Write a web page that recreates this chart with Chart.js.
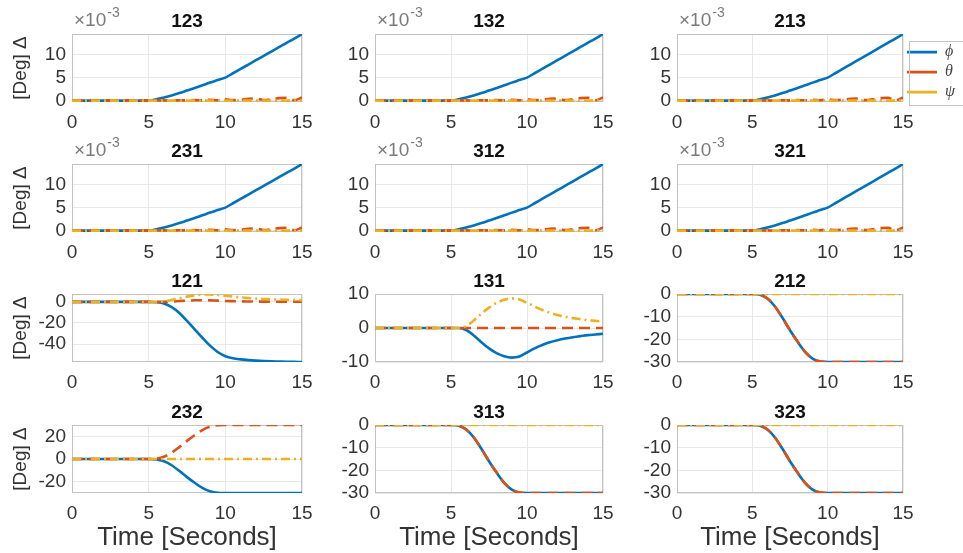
<!DOCTYPE html>
<html><head><meta charset="utf-8">
<script src="https://cdn.jsdelivr.net/npm/chart.js@4.4.1/dist/chart.umd.min.js"></script>
<style>
html,body{margin:0;padding:0;background:#fff;overflow:hidden;width:963px;height:553px;position:relative;}
canvas{position:absolute;}
</style></head><body>
<script>
// ---------- data ----------
const time = [0,0.5,1,1.5,2,2.5,3,3.5,4,4.5,5,5.5,6,6.5,7,7.5,8,8.5,9,9.5,10,10.5,11,11.5,12,12.5,13,13.5,14,14.5,15];
const xTicks = [0,5,10,15];
const seriesNames = ['\u03d5','\u03b8','\u03c8'];

// rows 1-2 (x10^-3)
const phiSmall   = [0,0,0,0,0,0,0,0,0,0,0, 0.3,0.7,1.15,1.65,2.2,2.75,3.35,3.95,4.5,5.05, 6,6.95,7.9,8.85,9.8,10.75,11.7,12.65,13.6,14.6];
const thetaSmall = [0,0,0,0,0,0,0,0,0,0,0, 0.02,0.05,0.03,0.08,0.05,0.12,0.06,0.18,0.08,0.3, 0.1,0.22,0.38,0.45,0.12,0.3,0.55,0.62,0.08,0.7];
const psiSmall   = [0,0,0,0,0,0,0,0,0,0,0, 0,0,0,0,0,0,0,0,0,0, 0,0,0,0,0,0,0,0,0,0];
const yTicksSmall = [0,5,10];

// 121
const phi121   = [0,0,0,0,0,0,0,0,0,0,0, -0.3,-1.5,-5,-10.5,-18,-26,-34,-41.5,-47.5,-51.5, -53.5,-54.5,-55.2,-55.7,-56.1,-56.4,-56.6,-56.8,-56.9,-57];
const theta121 = [0,0,0,0,0,0,0,0,0,0,0, 0,0.1,0.4,0.8,1.2,1.5,1.6,1.5,1.2,0.9, 0.7,0.5,0.4,0.3,0.25,0.2,0.15,0.12,0.1,0.1];
const psi121   = [0,0,0,0,0,0,0,0,0,0,0, 0,0.5,1.8,3.5,5,6.2,6.9,7,6.6,5.8, 5,4.3,3.7,3.2,2.8,2.5,2.2,2,1.8,1.6];
const yTicks121 = [-40,-20,0];

// 131
const phi131   = [0,0,0,0,0,0,0,0,0,0,0, 0,-0.6,-2.2,-4.2,-6,-7.4,-8.3,-8.7,-8.4,-7.2, -6,-5,-4.2,-3.6,-3.1,-2.7,-2.4,-2.1,-1.9,-1.7];
const theta131 = [0,0,0,0,0,0,0,0,0,0,0, 0,0,0,0,0,0,0,0,0,0, 0,0,0,0,0,0,0,0,0,0];
const psi131   = [0,0,0,0,0,0,0,0,0,0,0, 0,0.6,2.2,4.2,6,7.4,8.3,8.7,8.4,7.4, 6.3,5.3,4.5,3.8,3.3,2.9,2.6,2.3,2.1,1.9];
const yTicks131 = [-10,0,10];

// 212 / 313 / 323
const phiS   = [0,0,0,0,0,0,0,0,0,0,0, -0.3,-2,-5.5,-10.5,-16,-21,-25.5,-28.5,-29.8,-30, -30,-30,-30,-30,-30,-30,-30,-30,-30,-30];
const thetaS = [0,0,0,0,0,0,0,0,0,0,0, -0.3,-2,-5.5,-10.5,-16,-21,-25.5,-28.5,-29.8,-30, -30,-30,-30,-30,-30,-30,-30,-30,-30,-30];
const psiZero = [0,0,0,0,0,0,0,0,0,0,0, 0,0,0,0,0,0,0,0,0,0, 0,0,0,0,0,0,0,0,0,0];
const yTicksS = [-30,-20,-10,0];

// 232
const phi232   = [0,0,0,0,0,0,0,0,0,0,0, -0.3,-2,-5.5,-10.5,-16,-21,-25.5,-28.5,-29.8,-30, -30,-30,-30,-30,-30,-30,-30,-30,-30,-30];
const theta232 = [0,0,0,0,0,0,0,0,0,0,0, 0.3,2,5.5,10.5,16,21,25.5,28.5,29.8,30, 30,30,30,30,30,30,30,30,30,30];
const yTicks232 = [-20,0,20];

const titles = ['123','132','213','231','312','321','121','131','212','232','313','323'];

const panels = [
  {phi:phiSmall, theta:thetaSmall, psi:psiSmall, yMin:-0.3, yMax:14.6, yTicks:yTicksSmall, exp:true},
  {phi:phiSmall, theta:thetaSmall, psi:psiSmall, yMin:-0.3, yMax:14.6, yTicks:yTicksSmall, exp:true},
  {phi:phiSmall, theta:thetaSmall, psi:psiSmall, yMin:-0.3, yMax:14.6, yTicks:yTicksSmall, exp:true},
  {phi:phiSmall, theta:thetaSmall, psi:psiSmall, yMin:-0.3, yMax:14.6, yTicks:yTicksSmall, exp:true},
  {phi:phiSmall, theta:thetaSmall, psi:psiSmall, yMin:-0.3, yMax:14.6, yTicks:yTicksSmall, exp:true},
  {phi:phiSmall, theta:thetaSmall, psi:psiSmall, yMin:-0.3, yMax:14.6, yTicks:yTicksSmall, exp:true},
  {phi:phi121, theta:theta121, psi:psi121, yMin:-57, yMax:7.5, yTicks:yTicks121},
  {phi:phi131, theta:theta131, psi:psi131, yMin:-10, yMax:10, yTicks:yTicks131},
  {phi:phiS, theta:thetaS, psi:psiZero, yMin:-30, yMax:0, yTicks:yTicksS},
  {phi:phi232, theta:theta232, psi:psiZero, yMin:-30, yMax:30, yTicks:yTicks232},
  {phi:phiS, theta:thetaS, psi:psiZero, yMin:-30, yMax:0, yTicks:yTicksS},
  {phi:phiS, theta:thetaS, psi:psiZero, yMin:-30, yMax:0, yTicks:yTicksS}
];

// ---------- layout / style ----------
const colLeft = [72, 375, 677], colRight = [302, 603, 903];
const rowTop = [34, 164, 294, 425], rowBottom = [102, 232, 362, 493];
const FONT = '"Liberation Sans", Arial, Helvetica, sans-serif';
Chart.defaults.font.family = FONT;
const COLORS = ['#0072BD', '#D95319', '#EDB120'];
const AXW = 72, TITLEH = 28;

const framePlugin = {
  id: 'frame',
  beforeDatasetsDraw(chart) {
    const a = chart.chartArea, ctx = chart.ctx;
    ctx.save();
    ctx.strokeStyle = '#c2c2c2';
    ctx.lineWidth = 1;
    ctx.strokeRect(Math.round(a.left) + 0.5, Math.round(a.top) + 0.5, Math.round(a.right - a.left) - 1, Math.round(a.bottom - a.top) - 1);
    ctx.restore();
  }
};
const expPlugin = {
  id: 'expLabel',
  afterDraw(chart, args, opts) {
    if (!opts || !opts.show) return;
    const a = chart.chartArea, ctx = chart.ctx;
    ctx.save();
    ctx.fillStyle = '#7a7a7a';
    ctx.textBaseline = 'middle';
    ctx.textAlign = 'left';
    ctx.font = '19px ' + FONT;
    ctx.fillText('\u00d710', a.left + 2, a.top - 13);
    const w = ctx.measureText('\u00d710').width;
    ctx.font = '14px ' + FONT;
    ctx.fillText('-3', a.left + 3 + w, a.top - 21);
    ctx.restore();
  }
};
const legendBoxPlugin = {
  id: 'legendBox',
  afterDraw(chart) {
    const lg = chart.legend;
    if (!lg || !chart.options.plugins.legend.display || !lg.legendHitBoxes || !lg.legendHitBoxes.length) return;
    const hb = lg.legendHitBoxes, last = hb[hb.length - 1];
    const ctx = chart.ctx;
    ctx.save();
    ctx.strokeStyle = '#c2c2c2';
    ctx.lineWidth = 1;
    const top = Math.round(hb[0].top - 3) + 0.5, bottom = Math.round(last.top + last.height + 5) + 0.5;
    const left = Math.round(lg.left + 6) + 0.5;
    ctx.strokeRect(left, top, chart.width - left + 5, bottom - top);
    ctx.restore();
  }
};

function makePanel(i) {
  const r = Math.floor(i / 3), c = i % 3;
  const p = panels[i];
  const L = colLeft[c], R = colRight[c], T = rowTop[r], B = rowBottom[r];
  const isLegend = (r === 0 && c === 2);
  const xh = r === 3 ? 61 : 32;
  const cx = L - AXW, cy = T - TITLEH;
  const cw = (R - L) + AXW + (isLegend ? 110 : 20);
  const ch = TITLEH + (B - T) + xh;
  const cv = document.createElement('canvas');
  cv.width = cw; cv.height = ch;
  cv.style.left = cx + 'px'; cv.style.top = cy + 'px';
  cv.style.width = cw + 'px'; cv.style.height = ch + 'px';
  document.body.appendChild(cv);

  const mk = (arr) => time.map((t, k) => ({x: t, y: arr[k]}));
  const cfg = {
    type: 'line',
    data: {
      datasets: [
        {label: seriesNames[0], data: mk(p.phi), borderColor: COLORS[0], backgroundColor: COLORS[0], borderWidth: 2.6, order: 3, cubicInterpolationMode: 'monotone'},
        {label: seriesNames[1], data: mk(p.theta), borderColor: COLORS[1], backgroundColor: COLORS[1], borderWidth: 2.6, borderDash: [11, 6], order: 2, cubicInterpolationMode: 'monotone'},
        {label: seriesNames[2], data: mk(p.psi), borderColor: COLORS[2], backgroundColor: COLORS[2], borderWidth: 2.6, borderDash: [9, 4, 2, 4], order: 1, cubicInterpolationMode: 'monotone'}
      ]
    },
    options: {
      responsive: false, animation: false, devicePixelRatio: 1,
      elements: {point: {radius: 0}},
      layout: {padding: {left: 0, top: 3, right: isLegend ? 20 : 20, bottom: 0}},
      plugins: {
        tooltip: {enabled: false},
        title: {display: true, text: titles[i], fullSize: false, color: '#111',
                font: {size: 19, weight: 'bold', family: FONT}, padding: {top: 0, bottom: 1}},
        legend: {
          display: isLegend, position: 'right', align: 'center',
          labels: {usePointStyle: true, pointStyle: 'line', pointStyleWidth: 30, boxHeight: 16,
                   padding: 4, color: '#444', font: {size: 16, style: 'italic', family: '"Liberation Serif", "DejaVu Serif", serif'},
                   sort: (a, b) => a.datasetIndex - b.datasetIndex}
        },
        expLabel: {show: !!p.exp}
      },
      scales: {
        x: {
          type: 'linear', min: 0, max: 15,
          afterBuildTicks: s => { s.ticks = xTicks.map(v => ({value: v})); },
          afterFit: s => { s.height = xh; },
          ticks: {color: '#333', font: {size: 19}, padding: 9, maxRotation: 0, autoSkip: false},
          grid: {color: '#e8e8e8', drawTicks: false},
          border: {display: false},
          title: {display: r === 3, text: 'Time [Seconds]', color: '#333', font: {size: 26}, padding: {top: 0, bottom: 1}}
        },
        y: {
          type: 'linear', min: p.yMin, max: p.yMax,
          afterBuildTicks: s => { s.ticks = p.yTicks.map(v => ({value: v})); },
          afterFit: s => { s.width = AXW; },
          ticks: {color: '#333', font: {size: 19}, padding: 6, autoSkip: false},
          grid: {color: '#e8e8e8', drawTicks: false},
          border: {display: false},
          title: {display: c === 0, text: '[Deg] \u0394', color: '#333', font: {size: 19}, padding: {top: 9, bottom: 0}}
        }
      }
    },
    plugins: [framePlugin, expPlugin, legendBoxPlugin]
  };
  const chart = new Chart(cv, cfg);
  const tgt = {left: AXW, top: TITLEH, right: AXW + (R - L), bottom: TITLEH + (B - T)};
  for (let k = 0; k < 5; k++) {
    const a = chart.chartArea;
    const pad = cfg.options.layout.padding;
    const dl = tgt.left - a.left, dt = tgt.top - a.top, dr = a.right - tgt.right, db = a.bottom - tgt.bottom;
    if (Math.abs(dl) + Math.abs(dt) + Math.abs(dr) + Math.abs(db) < 0.05) break;
    pad.left += dl; pad.top += dt; pad.right += dr; pad.bottom += db;
    chart.update('none');
  }
}
for (let i = 0; i < 12; i++) makePanel(i);
</script>
</body></html>
